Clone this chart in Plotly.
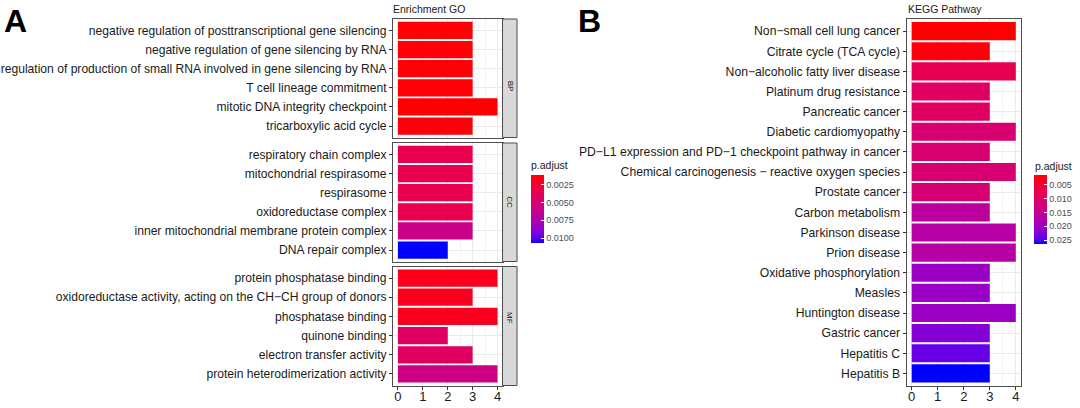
import plotly.graph_objects as go

# ---------------- data ----------------
bp_terms = ["negative regulation of posttranscriptional gene silencing",
            "negative regulation of gene silencing by RNA",
            "regulation of production of small RNA involved in gene silencing by RNA",
            "T cell lineage commitment",
            "mitotic DNA integrity checkpoint",
            "tricarboxylic acid cycle"]
bp_count = [3, 3, 3, 3, 4, 3]
bp_padj = [0.0012, 0.0012, 0.0012, 0.0012, 0.0011, 0.0013]

cc_terms = ["respiratory chain complex",
            "mitochondrial respirasome",
            "respirasome",
            "oxidoreductase complex",
            "inner mitochondrial membrane protein complex",
            "DNA repair complex"]
cc_count = [3, 3, 3, 3, 3, 2]
cc_padj = [0.0034, 0.0034, 0.0034, 0.0034, 0.0059, 0.0107]

mf_terms = ["protein phosphatase binding",
            "oxidoreductase activity, acting on the CH\u2212CH group of donors",
            "phosphatase binding",
            "quinone binding",
            "electron transfer activity",
            "protein heterodimerization activity"]
mf_count = [4, 3, 4, 2, 3, 4]
mf_padj = [0.0016, 0.0017, 0.0017, 0.0043, 0.0043, 0.0057]

kegg_terms = ["Non\u2212small cell lung cancer",
              "Citrate cycle (TCA cycle)",
              "Non\u2212alcoholic fatty liver disease",
              "Platinum drug resistance",
              "Pancreatic cancer",
              "Diabetic cardiomyopathy",
              "PD\u2212L1 expression and PD\u22121 checkpoint pathway in cancer",
              "Chemical carcinogenesis \u2212 reactive oxygen species",
              "Prostate cancer",
              "Carbon metabolism",
              "Parkinson disease",
              "Prion disease",
              "Oxidative phosphorylation",
              "Measles",
              "Huntington disease",
              "Gastric cancer",
              "Hepatitis C",
              "Hepatitis B"]
kegg_count = [4, 3, 4, 3, 3, 4, 3, 4, 3, 3, 4, 4, 3, 3, 4, 3, 3, 3]
kegg_padj = [0.0014, 0.0020, 0.0077, 0.0097, 0.0097, 0.0112, 0.0112, 0.0112, 0.0114,
             0.0164, 0.0169, 0.0169, 0.0202, 0.0202, 0.0202, 0.0220, 0.0239, 0.0264]

x_ticks = [0, 1, 2, 3, 4]
go_cbar_ticks = [0.0025, 0.0050, 0.0075, 0.0100]
go_cbar_labels = ["0.0025", "0.0050", "0.0075", "0.0100"]
kegg_cbar_ticks = [0.005, 0.010, 0.015, 0.020, 0.025]
kegg_cbar_labels = ["0.005", "0.010", "0.015", "0.020", "0.025"]
go_range = (0.0011, 0.0107)
kegg_range = (0.0014, 0.0264)

# ---------------- colour helpers (Lab interpolation red -> blue) ----------------
def srgb_to_lab(rgb):
    def lin(c):
        c = c / 255.0
        return c / 12.92 if c <= 0.04045 else ((c + 0.055) / 1.055) ** 2.4
    r, g, b = [lin(c) for c in rgb]
    X = 0.4124 * r + 0.3576 * g + 0.1805 * b
    Y = 0.2126 * r + 0.7152 * g + 0.0722 * b
    Z = 0.0193 * r + 0.1192 * g + 0.9505 * b
    Xn, Yn, Zn = 0.95047, 1.0, 1.08883
    def f(t):
        return t ** (1 / 3) if t > 0.008856 else 7.787 * t + 16 / 116
    fx, fy, fz = f(X / Xn), f(Y / Yn), f(Z / Zn)
    return (116 * fy - 16, 500 * (fx - fy), 200 * (fy - fz))

def lab_to_srgb(lab):
    L, a, b = lab
    fy = (L + 16) / 116
    fx = fy + a / 500
    fz = fy - b / 200
    def finv(t):
        return t ** 3 if t ** 3 > 0.008856 else (t - 16 / 116) / 7.787
    X, Y, Z = 0.95047 * finv(fx), finv(fy), 1.08883 * finv(fz)
    r = 3.2406 * X - 1.5372 * Y - 0.4986 * Z
    g = -0.9689 * X + 1.8758 * Y + 0.0415 * Z
    bb = 0.0557 * X - 0.2040 * Y + 1.0570 * Z
    def gam(c):
        c = max(0.0, min(1.0, c))
        return 12.92 * c if c <= 0.0031308 else 1.055 * c ** (1 / 2.4) - 0.055
    return tuple(int(round(255 * gam(c))) for c in (r, g, bb))

lab_blue = srgb_to_lab((0, 0, 255))
lab_red = srgb_to_lab((255, 0, 0))
scale = []
N = 20
for i in range(N + 1):
    t = i / N
    lab = tuple(lab_blue[k] + (lab_red[k] - lab_blue[k]) * t for k in range(3))
    r, g, b = lab_to_srgb(lab)
    scale.append([t, f"rgb({r},{g},{b})"])

# ---------------- layout helpers ----------------
W, H = 1080, 408
def px(x):
    return x / W
def py(y):
    return 1 - y / H

FONT = "Liberation Sans, Arial, Helvetica, sans-serif"
TXT = "#1a1a1a"
BORDER = "#4d4d4d"
GRID = "#ebebeb"

fig = go.Figure()

panels = [
    # (terms, counts, padj, xaxis id, yaxis id, top px, bottom px, coloraxis, show x ticks)
    (bp_terms, bp_count, bp_padj, "x", "y", 19, 137.5, "coloraxis", False),
    (cc_terms, cc_count, cc_padj, "x2", "y2", 143, 261.5, "coloraxis", False),
    (mf_terms, mf_count, mf_padj, "x3", "y3", 266.5, 385.5, "coloraxis", True),
    (kegg_terms, kegg_count, kegg_padj, "x4", "y4", 19, 385.5, "coloraxis2", True),
]

for terms, counts, padj, xa, ya, top, bot, cax, showx in panels:
    fig.add_trace(go.Bar(
        x=counts, y=terms, orientation="h",
        marker=dict(color=[-p for p in padj], coloraxis=cax, line=dict(width=0)),
        xaxis=xa, yaxis=ya, showlegend=False,
        hovertemplate="%{y}<br>Count=%{x}<extra></extra>",
    ))
    if xa == "x4":
        xdom = [px(906.5), px(1021)]
        lab_size = 12.2
    else:
        xdom = [px(393), px(502.5)]
        lab_size = 12.1
    xkey = "xaxis" if xa == "x" else "xaxis" + xa[1:]
    ykey = "yaxis" if ya == "y" else "yaxis" + ya[1:]
    n = len(terms)
    fig.update_layout(**{
        xkey: dict(
            domain=xdom, anchor=ya, range=[-0.2, 4.2],
            tickvals=x_ticks, showticklabels=showx,
            ticks="outside" if showx else "", ticklen=3, tickcolor="#333333",
            ticklabelstandoff=-4,
            tickfont=dict(family=FONT, size=13, color=TXT),
            showgrid=True, gridcolor=GRID, gridwidth=1,
            minor=dict(dtick=0.5, showgrid=True, gridcolor="#f4f4f4", gridwidth=0.6),
            showline=True, mirror=True, linecolor=BORDER, linewidth=1,
            zeroline=False, fixedrange=True,
        ),
        ykey: dict(
            domain=[py(bot), py(top)], anchor=xa,
            type="category", categoryorder="array", categoryarray=terms,
            range=[n - 0.4, -0.6],
            ticks="outside", ticklen=3, tickcolor="#333333",
            tickfont=dict(family=FONT, size=lab_size, color=TXT),
            showgrid=True, gridcolor=GRID, gridwidth=1,
            showline=True, mirror=True, linecolor=BORDER, linewidth=1,
            zeroline=False, fixedrange=True,
        ),
    })

# facet strips
for label, top, bot in [("BP", 19, 137.5), ("CC", 143, 261.5), ("MF", 266.5, 385.5)]:
    fig.add_shape(type="rect", xref="paper", yref="paper",
                  x0=px(502.5), x1=px(517), y0=py(bot), y1=py(top),
                  fillcolor="#d9d9d9", line=dict(color=BORDER, width=1))
    fig.add_annotation(x=px(510), y=py((top + bot) / 2), xref="paper", yref="paper",
                       text=label, showarrow=False, textangle=90,
                       font=dict(family=FONT, size=8, color=TXT))

# colour axes (values negated so that small p.adjust sits at the top, as in ggplot)
fig.update_layout(
    coloraxis=dict(
        colorscale=scale, cmin=-go_range[1], cmax=-go_range[0],
        colorbar=dict(
            x=px(531), xanchor="left", xpad=0, ypad=0,
            y=py(209), yanchor="middle", lenmode="pixels", len=68,
            thickness=13, outlinewidth=0,
            tickvals=[-v for v in go_cbar_ticks], ticktext=go_cbar_labels,
            ticks="inside", ticklen=3, tickcolor="white",
            tickfont=dict(family=FONT, size=9, color="#4d4d4d"),
        ),
    ),
    coloraxis2=dict(
        colorscale=scale, cmin=-kegg_range[1], cmax=-kegg_range[0],
        colorbar=dict(
            x=px(1034), xanchor="left", xpad=0, ypad=0,
            y=py(209.5), yanchor="middle", lenmode="pixels", len=69,
            thickness=13, outlinewidth=0,
            tickvals=[-v for v in kegg_cbar_ticks], ticktext=kegg_cbar_labels,
            ticks="inside", ticklen=3, tickcolor="white",
            tickfont=dict(family=FONT, size=9, color="#4d4d4d"),
        ),
    ),
)

# titles, colourbar titles and panel letters
annots = [
    dict(x=px(391), y=py(8.5), text="Enrichment GO", size=10.5, xanchor="left", bold=False),
    dict(x=px(906), y=py(8.5), text="KEGG Pathway", size=10.5, xanchor="left", bold=False),
    dict(x=px(529), y=py(164.5), text="p.adjust", size=10.5, xanchor="left", bold=False),
    dict(x=px(1033), y=py(166), text="p.adjust", size=10.5, xanchor="left", bold=False),
    dict(x=px(2), y=py(21), text="<b>A</b>", size=32, xanchor="left", bold=True),
    dict(x=px(576), y=py(20.5), text="<b>B</b>", size=32, xanchor="left", bold=True),
]
for a in annots:
    fig.add_annotation(x=a["x"], y=a["y"], xref="paper", yref="paper", text=a["text"],
                       showarrow=False, xanchor=a["xanchor"], yanchor="middle",
                       font=dict(family=FONT, size=a["size"], color="#000000" if a["bold"] else TXT))

fig.update_layout(
    width=W, height=H, margin=dict(l=0, r=0, t=0, b=0),
    paper_bgcolor="white", plot_bgcolor="white",
    bargap=0.1, showlegend=False,
)

fig.write_html(
    "out.html",
    config={"displayModeBar": False},
    post_script="document.body.style.margin='0';document.body.style.padding='0';document.body.style.overflow='hidden';",
)
